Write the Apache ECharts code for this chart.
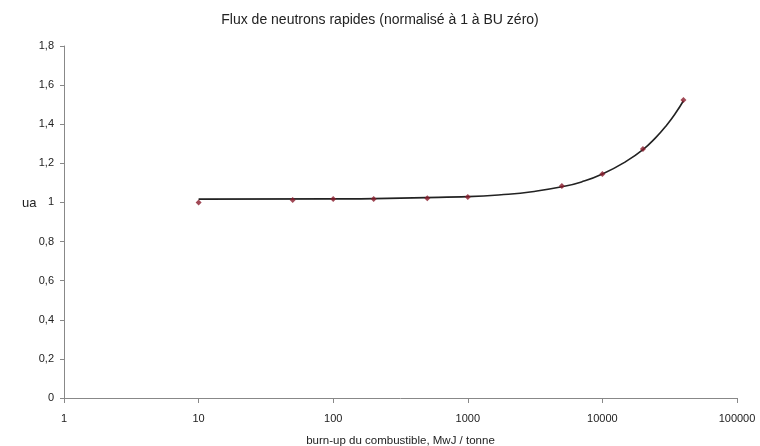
<!DOCTYPE html>
<html>
<head>
<meta charset="utf-8">
<script src="https://cdn.jsdelivr.net/npm/echarts@6/dist/echarts.min.js"></script>
<style>html,body{margin:0;padding:0;background:#fff}#c{width:760px;height:446px}</style>
</head>
<body>
<div id="c"></div>
<script>
var burnup = [10, 50, 100, 200, 500, 1000, 5000, 10000, 20000, 40000];
var flux = [1.00, 1.012, 1.017, 1.017, 1.022, 1.028, 1.084, 1.145, 1.273, 1.524];
var trendX = [10, 100, 1000, 2000, 3000, 5000, 7000, 10000, 15000, 20000, 25000, 30000, 35000, 40000];
var trendY = [1.017, 1.018, 1.03, 1.042, 1.055, 1.08, 1.105, 1.145, 1.21, 1.27, 1.333, 1.395, 1.457, 1.52];
var yTicks = [0, 0.2, 0.4, 0.6, 0.8, 1, 1.2, 1.4, 1.6, 1.8];

var chart = echarts.init(document.getElementById('c'));
var font = 'Liberation Sans, Arial, sans-serif';
chart.setOption({
  animation: false,
  backgroundColor: '#fff',
  title: {
    text: 'Flux de neutrons rapides (normalisé à 1 à BU zéro)',
    left: 'center', top: 8,
    textStyle: {fontFamily: font, fontSize: 14, fontWeight: 'normal', color: '#222'}
  },
  graphic: [{
    type: 'text', left: 22, top: 197,
    style: {text: 'ua', font: '13px Liberation Sans, Arial, sans-serif', fill: '#222'}
  }],
  grid: {left: 64, right: 23, top: 46, bottom: 48, containLabel: false, outerBoundsMode: 'none'},
  xAxis: {
    type: 'log', logBase: 10, min: 1, max: 100000,
    name: 'burn-up du combustible, MwJ / tonne',
    nameLocation: 'middle', nameGap: 37,
    nameTextStyle: {fontFamily: font, fontSize: 11.5, color: '#222'},
    axisLine: {lineStyle: {color: '#888', width: 1}},
    axisTick: {show: true, length: 5, lineStyle: {color: '#888'}},
    minorTick: {show: false},
    splitLine: {show: false},
    axisLabel: {
      fontFamily: font, fontSize: 11, color: '#222', margin: 15,
      formatter: function (v) { return String(Math.round(v)); }
    }
  },
  yAxis: {
    type: 'value', min: 0, max: 1.8, interval: 0.2,
    axisLine: {show: true, lineStyle: {color: '#888', width: 1}},
    axisTick: {show: true, length: 4, lineStyle: {color: '#888'}},
    splitLine: {show: false},
    axisLabel: {
      fontFamily: font, fontSize: 11, color: '#222', margin: 10,
      formatter: function (v) {
        var t = yTicks.filter(function (k) { return Math.abs(k - v) < 1e-9; });
        return t.length ? String(t[0]).replace('.', ',') : '';
      }
    }
  },
  series: [
    {
      type: 'line', smooth: true, showSymbol: false,
      data: trendX.map(function (x, i) { return [x, trendY[i]]; }),
      lineStyle: {color: '#222', width: 1.6}, z: 2
    },
    {
      type: 'scatter', symbol: 'diamond', symbolSize: 6,
      data: burnup.map(function (x, i) { return [x, flux[i]]; }),
      itemStyle: {color: '#8a1c2c'}, z: 3
    }
  ]
});
</script>
</body>
</html>
